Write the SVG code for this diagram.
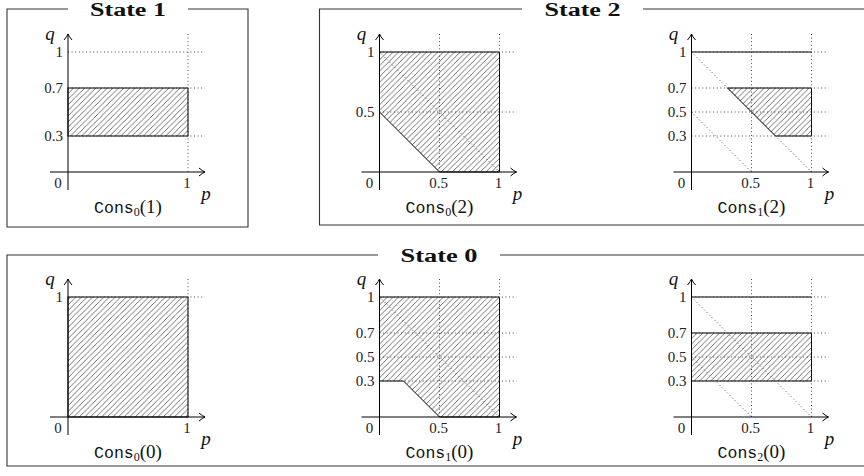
<svg xmlns="http://www.w3.org/2000/svg" width="864" height="476" viewBox="0 0 864 476">
<style>
.frame{fill:none;stroke:#333;stroke-width:1.1}
.axis{fill:none;stroke:#000;stroke-width:1}
.dot{fill:none;stroke:#333;stroke-width:0.9;stroke-dasharray:1 2.6}
.region{fill:url(#hatch);stroke:#000;stroke-width:1}
.solid{fill:none;stroke:#000;stroke-width:1}
.tk{font-family:"Liberation Serif",serif;font-size:15px;fill:#222}
.e{text-anchor:end}
.m{text-anchor:middle}
.var{font-family:"Liberation Serif",serif;font-style:italic;font-size:19px;text-anchor:middle;fill:#111}
.cons{font-family:"Liberation Serif",serif;font-size:19px;text-anchor:middle;fill:#111}
.mono{font-family:"Liberation Mono",monospace;font-size:16.5px}
.sub{font-size:12px}
.title{font-family:"Liberation Serif",serif;font-weight:bold;font-size:18px;text-anchor:middle;fill:#111}
</style>
<defs>
<pattern id="hatch" patternUnits="userSpaceOnUse" width="5.6" height="5.6">
<path d="M-1,1L1,-1M0,5.6L5.6,0M4.6,6.6L6.6,4.6" stroke="#333" stroke-width="0.7"/>
</pattern>
<marker id="arr" markerUnits="userSpaceOnUse" viewBox="-8 -5 10 10" refX="0" refY="0" markerWidth="10" markerHeight="10" orient="auto">
<path d="M-6,-4Q-2.5,-1 0,0Q-2.5,1 -6,4" fill="none" stroke="#000" stroke-width="1"/>
</marker>
</defs>

<g id="frames">
<path class="frame" d="M68,9H7V227H248V9H188"/>
<text class="title" x="128" y="16" textLength="76" lengthAdjust="spacingAndGlyphs">State 1</text>
<path class="frame" d="M522,9H319.5V225H866M643,9H866"/>
<text class="title" x="582.5" y="16" textLength="76" lengthAdjust="spacingAndGlyphs">State 2</text>
<path class="frame" d="M378,255H7V466H866M500,255H866"/>
<text class="title" x="439" y="262" textLength="77" lengthAdjust="spacingAndGlyphs">State 0</text>
</g>

<g id="plot-cons0-1" transform="translate(68,172)">
<rect class="region" x="0" y="-84" width="120" height="48"/>
<path class="dot" d="M120,-138V0M0,-120H137M0,-84H137M0,-36H137"/>
<path class="axis" d="M-18,0H137" marker-end="url(#arr)"/>
<path class="axis" d="M0,18V-138" marker-end="url(#arr)"/>
<text class="tk m" x="-10" y="16">0</text>
<text class="tk m" x="119" y="16">1</text>
<text class="tk e" x="-5" y="-115">1</text>
<text class="tk e" x="-5" y="-79">0.7</text>
<text class="tk e" x="-5" y="-31">0.3</text>
<text class="var" x="-18" y="-132">q</text>
<text class="var" x="138" y="28">p</text>
<text class="cons" x="60" y="41"><tspan class="mono">Cons</tspan><tspan class="sub" dy="3">0</tspan><tspan dy="-3">(1)</tspan></text>
</g>

<g id="plot-cons0-2" transform="translate(379.5,172)">
<polygon class="region" points="0,-60 60,0 120,0 120,-120 0,-120"/>
<path class="dot" d="M60,-138V0M120,-138V0M0,-120H137M0,-60H137M0,-120L120,0"/>
<path class="axis" d="M-18,0H137" marker-end="url(#arr)"/>
<path class="axis" d="M0,18V-138" marker-end="url(#arr)"/>
<text class="tk m" x="-10" y="16">0</text>
<text class="tk m" x="59" y="16">0.5</text>
<text class="tk m" x="119" y="16">1</text>
<text class="tk e" x="-5" y="-115">1</text>
<text class="tk e" x="-5" y="-55">0.5</text>
<text class="var" x="-18" y="-132">q</text>
<text class="var" x="138" y="28">p</text>
<text class="cons" x="60" y="41"><tspan class="mono">Cons</tspan><tspan class="sub" dy="3">0</tspan><tspan dy="-3">(2)</tspan></text>
</g>

<g id="plot-cons1-2" transform="translate(691.5,172)">
<polygon class="region" points="36,-84 120,-84 120,-36 84,-36"/>
<path class="solid" d="M0,-120H120"/>
<path class="dot" d="M60,-138V0M120,-138V0M0,-120H137M0,-84H137M0,-60H137M0,-36H137M0,-120L120,0M0,-60L60,0"/>
<path class="axis" d="M-18,0H137" marker-end="url(#arr)"/>
<path class="axis" d="M0,18V-138" marker-end="url(#arr)"/>
<text class="tk m" x="-10" y="16">0</text>
<text class="tk m" x="59" y="16">0.5</text>
<text class="tk m" x="119" y="16">1</text>
<text class="tk e" x="-5" y="-115">1</text>
<text class="tk e" x="-5" y="-79">0.7</text>
<text class="tk e" x="-5" y="-55">0.5</text>
<text class="tk e" x="-5" y="-31">0.3</text>
<text class="var" x="-18" y="-132">q</text>
<text class="var" x="138" y="28">p</text>
<text class="cons" x="60" y="41"><tspan class="mono">Cons</tspan><tspan class="sub" dy="3">1</tspan><tspan dy="-3">(2)</tspan></text>
</g>

<g id="plot-cons0-0" transform="translate(68,417)">
<rect class="region" x="0" y="-120" width="120" height="120"/>
<path class="dot" d="M120,-138V0M0,-120H137"/>
<path class="axis" d="M-18,0H137" marker-end="url(#arr)"/>
<path class="axis" d="M0,18V-138" marker-end="url(#arr)"/>
<text class="tk m" x="-10" y="16">0</text>
<text class="tk m" x="119" y="16">1</text>
<text class="tk e" x="-5" y="-115">1</text>
<text class="var" x="-18" y="-132">q</text>
<text class="var" x="138" y="28">p</text>
<text class="cons" x="60" y="41"><tspan class="mono">Cons</tspan><tspan class="sub" dy="3">0</tspan><tspan dy="-3">(0)</tspan></text>
</g>

<g id="plot-cons1-0" transform="translate(379.5,417)">
<polygon class="region" points="0,-36 24,-36 60,0 120,0 120,-120 0,-120"/>
<path class="dot" d="M60,-138V0M120,-138V0M0,-120H137M0,-84H137M0,-60H137M0,-36H137M0,-120L120,0"/>
<path class="axis" d="M-18,0H137" marker-end="url(#arr)"/>
<path class="axis" d="M0,18V-138" marker-end="url(#arr)"/>
<text class="tk m" x="-10" y="16">0</text>
<text class="tk m" x="59" y="16">0.5</text>
<text class="tk m" x="119" y="16">1</text>
<text class="tk e" x="-5" y="-115">1</text>
<text class="tk e" x="-5" y="-79">0.7</text>
<text class="tk e" x="-5" y="-55">0.5</text>
<text class="tk e" x="-5" y="-31">0.3</text>
<text class="var" x="-18" y="-132">q</text>
<text class="var" x="138" y="28">p</text>
<text class="cons" x="60" y="41"><tspan class="mono">Cons</tspan><tspan class="sub" dy="3">1</tspan><tspan dy="-3">(0)</tspan></text>
</g>

<g id="plot-cons2-0" transform="translate(691.5,417)">
<rect class="region" x="0" y="-84" width="120" height="48"/>
<path class="solid" d="M0,-120H120"/>
<path class="dot" d="M60,-138V0M120,-138V0M0,-120H137M0,-84H137M0,-60H137M0,-36H137M0,-120L120,0M0,-60L60,0"/>
<path class="axis" d="M-18,0H137" marker-end="url(#arr)"/>
<path class="axis" d="M0,18V-138" marker-end="url(#arr)"/>
<text class="tk m" x="-10" y="16">0</text>
<text class="tk m" x="59" y="16">0.5</text>
<text class="tk m" x="119" y="16">1</text>
<text class="tk e" x="-5" y="-115">1</text>
<text class="tk e" x="-5" y="-79">0.7</text>
<text class="tk e" x="-5" y="-55">0.5</text>
<text class="tk e" x="-5" y="-31">0.3</text>
<text class="var" x="-18" y="-132">q</text>
<text class="var" x="138" y="28">p</text>
<text class="cons" x="60" y="41"><tspan class="mono">Cons</tspan><tspan class="sub" dy="3">2</tspan><tspan dy="-3">(0)</tspan></text>
</g>
</svg>
